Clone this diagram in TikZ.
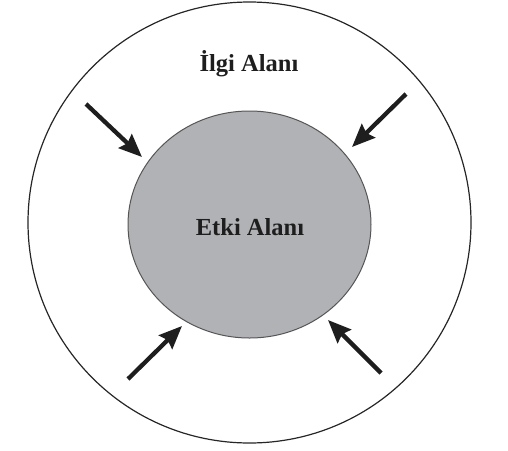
\documentclass[tikz,border=0pt]{standalone}
\usepackage{fontspec}
\setmainfont{Liberation Serif}
\usetikzlibrary{arrows.meta,shapes.geometric}
\definecolor{innerfill}{HTML}{B1B2B5}
\definecolor{inneredge}{HTML}{555555}
\definecolor{ink}{HTML}{1E1E1E}
\tikzset{
  zone/.style={ellipse, inner sep=0pt, outer sep=0pt},
  label/.style={font=\bfseries\fontsize{24.5}{28}\selectfont, text=ink, inner sep=0pt, anchor=base},
  push/.style={draw=ink, line width=4.3pt, -{Stealth[length=23pt,width=19pt,inset=3pt]}}
}
\begin{document}
\begin{tikzpicture}[x=1pt,y=-1pt]
\useasboundingbox (0,0) rectangle (508,450);
\node[zone, draw=black!85, line width=1.2pt, minimum width=443pt, minimum height=441pt] (outer) at (249.5,222.5) {};
\node[zone, draw=inneredge, line width=1pt, fill=innerfill, minimum width=243pt, minimum height=227pt] (inner) at (249.5,224.5) {};
\node[label] (ilgi) at (249,71) {İlgi Alanı};
\node[label] (etki) at (250,235) {Etki Alanı};
\coordinate (tl) at (86,104);
\coordinate (tr) at (406,94);
\coordinate (bl) at (128,379);
\coordinate (br) at (381,373);
\coordinate (tlh) at (142,157);
\coordinate (trh) at (352,147);
\coordinate (blh) at (182,326);
\coordinate (brh) at (328,320);
\draw[push] (tl) -- (tlh);
\draw[push] (tr) -- (trh);
\draw[push] (bl) -- (blh);
\draw[push] (br) -- (brh);
\end{tikzpicture}
\end{document}
